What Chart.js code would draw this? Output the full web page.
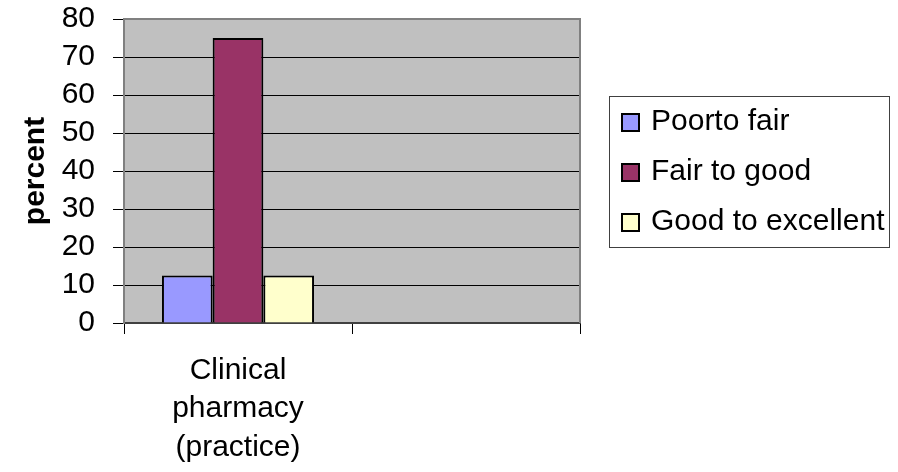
<!DOCTYPE html>
<html>
<head>
<meta charset="utf-8">
<script src="https://cdn.jsdelivr.net/npm/chart.js@4"></script>
<style>
  body { margin: 0; background: #fff; }
  canvas { display: block; }
</style>
</head>
<body>
<canvas id="myChart" width="898" height="472"></canvas>
<script>
const CATEGORIES = [['Clinical', 'pharmacy', '(practice)'], ''];
const SERIES = ['Poorto fair', 'Fair to good', 'Good to excellent'];
const POOR_TO_FAIR = [12.5, null];
const FAIR_TO_GOOD = [75, null];
const GOOD_TO_EXCELLENT = [12.5, null];
const COLORS = ['#9999ff', '#993366', '#ffffcc'];
const Y_TICKS = [0, 10, 20, 30, 40, 50, 60, 70, 80];

const FONT = '"Liberation Sans", Arial, sans-serif';

// grey plot area + top/right frame
const plotBack = {
  id: 'plotBack',
  beforeDraw(chart) {
    const { ctx, chartArea: a } = chart;
    ctx.save();
    ctx.fillStyle = '#c0c0c0';
    ctx.fillRect(a.left, a.top, a.right - a.left, a.bottom - a.top);
    ctx.restore();
  },
  afterDraw(chart) {
    const { ctx, chartArea: a } = chart;
    ctx.save();
    ctx.strokeStyle = '#808080';
    ctx.lineWidth = 2;
    ctx.beginPath();
    ctx.moveTo(a.left, a.top);
    ctx.lineTo(a.right, a.top);
    ctx.lineTo(a.right, a.bottom);
    ctx.stroke();
    ctx.restore();
  },
};

// boxed legend on the right
const boxLegend = {
  id: 'boxLegend',
  afterDraw(chart) {
    const ctx = chart.ctx;
    ctx.save();
    ctx.strokeStyle = '#404040';
    ctx.lineWidth = 1;
    ctx.strokeRect(609.5, 96.5, 280, 151);
    ctx.font = '30px ' + FONT;
    ctx.textBaseline = 'middle';
    chart.data.datasets.forEach((ds, i) => {
      const y = 122 + i * 50;
      ctx.fillStyle = ds.backgroundColor;
      ctx.fillRect(622, y - 8, 17, 17);
      ctx.strokeStyle = '#000';
      ctx.lineWidth = 2;
      ctx.strokeRect(622, y - 8, 17, 17);
      ctx.fillStyle = '#000';
      ctx.fillText(ds.label, 651, y);
    });
    ctx.restore();
  },
};

const values = [POOR_TO_FAIR, FAIR_TO_GOOD, GOOD_TO_EXCELLENT];

let ctx = document.getElementById('myChart').getContext('2d');
let myChart = new Chart(ctx, {
  type: 'bar',
  data: {
    labels: CATEGORIES,
    datasets: SERIES.map((name, i) => ({
      label: name,
      data: values[i],
      backgroundColor: COLORS[i],
      borderColor: '#000',
      borderWidth: 2,
      categoryPercentage: 0.667,
      barPercentage: 1,
    })),
  },
  options: {
    responsive: false,
    animation: false,
    layout: { padding: { left: 0, right: 318, top: 19, bottom: 0 } },
    plugins: {
      legend: { display: false },
      tooltip: { enabled: false },
    },
    scales: {
      x: {
        offset: true,
        grid: {
          offset: true,
          drawOnChartArea: false,
          drawTicks: true,
          tickLength: 11,
          color: '#000',
        },
        border: { color: '#404040', width: 2 },
        ticks: {
          color: '#000',
          font: { family: FONT, size: 30, lineHeight: 1.27 },
          padding: 18,
          maxRotation: 0,
          autoSkip: false,
        },
        afterFit: (s) => {
          s.height = 149;
          s.paddingLeft = 0;
          s.paddingRight = 0;
        },
      },
      y: {
        min: 0,
        max: 80,
        afterBuildTicks: (s) => { s.ticks = Y_TICKS.map((v) => ({ value: v })); },
        grid: {
          color: (c) => (c.tick && c.tick.value === 80 ? '#808080' : '#000'),
          tickColor: '#000',
          tickLength: 11,
          lineWidth: 1,
        },
        border: { color: '#808080', width: 2 },
        ticks: {
          color: '#000',
          font: { family: FONT, size: 30 },
          padding: 18,
          autoSkip: false,
          stepSize: 10,
        },
        title: {
          display: true,
          text: 'percent',
          color: '#000',
          font: { family: FONT, size: 30, weight: 'bold' },
          padding: { top: 18, bottom: 0 },
        },
        afterFit: (s) => {
          s.width = 124;
          s.paddingTop = 0;
          s.paddingBottom = 0;
        },
      },
    },
  },
  plugins: [plotBack, boxLegend],
});
</script>
</body>
</html>
